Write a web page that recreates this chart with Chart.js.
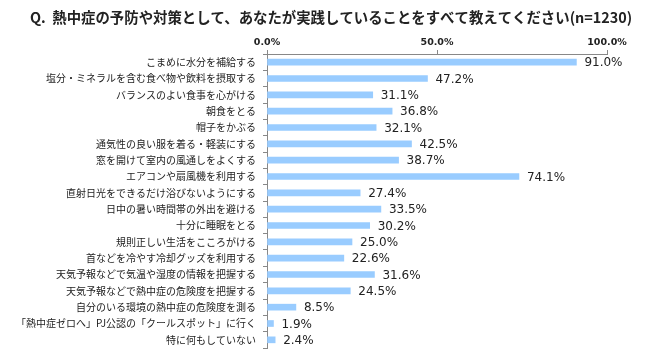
<!DOCTYPE html>
<html lang="ja">
<head>
    <meta charset="UTF-8">
    <title>熱中症の予防や対策</title>
    <script src="https://cdnjs.cloudflare.com/ajax/libs/Chart.js/4.4.1/chart.umd.min.js"></script>
    <style>
        html, body {
            margin: 0;
            padding: 0;
            background: #fff;
        }
        #wrap {
            width: 650px;
            height: 361px;
        }
    </style>
</head>
<body>
    <div id="wrap"><canvas id="heatChart"></canvas></div>

    <script>
        const titleText = 'Q.  熱中症の予防や対策として、あなたが実践していることをすべて教えてください(n=1230)';

        const categories = [
            'こまめに水分を補給する',
            '塩分・ミネラルを含む食べ物や飲料を摂取する',
            'バランスのよい食事を心がける',
            '朝食をとる',
            '帽子をかぶる',
            '通気性の良い服を着る・軽装にする',
            '窓を開けて室内の風通しをよくする',
            'エアコンや扇風機を利用する',
            '直射日光をできるだけ浴びないようにする',
            '日中の暑い時間帯の外出を避ける',
            '十分に睡眠をとる',
            '規則正しい生活をこころがける',
            '首などを冷やす冷却グッズを利用する',
            '天気予報などで気温や湿度の情報を把握する',
            '天気予報などで熱中症の危険度を把握する',
            '自分のいる環境の熱中症の危険度を測る',
            '「熱中症ゼロへ」PJ公認の「クールスポット」に行く',
            '特に何もしていない'
        ];
        const percents = [91.0, 47.2, 31.1, 36.8, 32.1, 42.5, 38.7, 74.1, 27.4, 33.5, 30.2, 25.0, 22.6, 31.6, 24.5, 8.5, 1.9, 2.4];
        const axisTicks = [0, 50, 100];

        // title drawn by hand so it can start at x=30 independent of the y axis
        const titleLine = {
            id: 'titleLine',
            afterDraw(chart) {
                const ctx = chart.ctx;
                ctx.save();
                ctx.font = 'bold 14.4px "Noto Sans CJK JP", sans-serif';
                ctx.fillStyle = '#222';
                ctx.textAlign = 'left';
                ctx.textBaseline = 'middle';
                ctx.fillText(titleText, 30, 18);
                ctx.restore();
            }
        };

        // value labels at the end of each bar
        const valueLabels = {
            id: 'valueLabels',
            afterDatasetsDraw(chart) {
                const ctx = chart.ctx;
                const meta = chart.getDatasetMeta(0);
                ctx.save();
                ctx.font = '12px "DejaVu Sans", Verdana, sans-serif';
                ctx.fillStyle = '#222';
                ctx.textAlign = 'left';
                ctx.textBaseline = 'middle';
                meta.data.forEach((bar, i) => {
                    ctx.fillText(percents[i].toFixed(1) + '%', bar.x + 8, bar.y + 1);
                });
                ctx.restore();
            }
        };

        const ctx = document.getElementById('heatChart').getContext('2d');
        new Chart(ctx, {
            type: 'bar',
            data: {
                labels: categories,
                datasets: [{
                    data: percents,
                    backgroundColor: '#99ccff',
                    barThickness: 6
                }]
            },
            options: {
                indexAxis: 'y',
                responsive: true,
                maintainAspectRatio: false,
                animation: false,
                layout: {
                    padding: { left: 0, right: 43, top: 30, bottom: 13 }
                },
                plugins: {
                    legend: { display: false },
                    tooltip: { enabled: false },
                    title: { display: false }
                },
                scales: {
                    x: {
                        position: 'top',
                        min: 0,
                        max: 100,
                        afterBuildTicks: (axis) => {
                            axis.ticks = axisTicks.map(v => ({ value: v }));
                        },
                        afterFit: (axis) => {
                            axis.height = 24;
                        },
                        ticks: {
                            color: '#222',
                            padding: 2,
                            font: { family: '"DejaVu Sans", Verdana, sans-serif', size: 9.5, weight: 'bold' },
                            callback: (v) => v.toFixed(1) + '%'
                        },
                        grid: {
                            drawOnChartArea: false,
                            tickLength: 4,
                            color: '#888'
                        },
                        border: { color: '#888' }
                    },
                    y: {
                        afterFit: (axis) => {
                            axis.width = 267;
                        },
                        ticks: {
                            color: '#222',
                            padding: 7,
                            autoSkip: false,
                            font: { family: '"Noto Sans CJK JP", sans-serif', size: 10 }
                        },
                        grid: {
                            drawOnChartArea: false,
                            offset: true,
                            tickLength: 4,
                            color: '#888'
                        },
                        border: { color: '#888' }
                    }
                }
            },
            plugins: [valueLabels, titleLine]
        });
    </script>
</body>
</html>
